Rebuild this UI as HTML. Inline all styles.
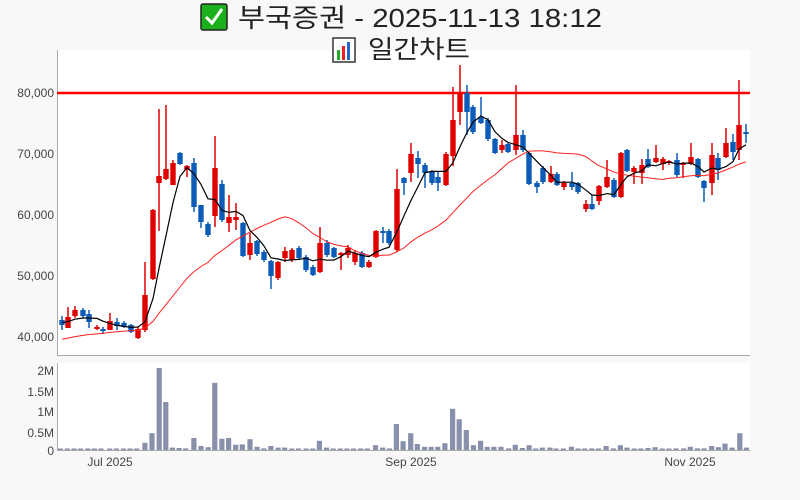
<!DOCTYPE html>
<html><head><meta charset="utf-8"><style>
body{margin:0;background:#f8f8f8;}
#c{position:relative;width:800px;height:500px;overflow:hidden;font-family:"Liberation Sans","Noto Sans CJK KR",sans-serif;}
</style></head><body><div id="c">
<svg id="s" width="800" height="500" xmlns="http://www.w3.org/2000/svg" style="position:absolute;left:0;top:0">
<rect x="57" y="50" width="693" height="305" fill="#fff"/>
<rect x="57" y="363" width="693" height="87" fill="#fff"/>
<line x1="57.5" y1="50" x2="57.5" y2="355" stroke="#aaa"/>
<line x1="57" y1="355.5" x2="750" y2="355.5" stroke="#aaa"/>
<line x1="57.5" y1="363" x2="57.5" y2="450" stroke="#aaa"/>
<line x1="57" y1="450.5" x2="750" y2="450.5" stroke="#aaa"/>
<g font-size="12" fill="#444" text-anchor="end">
<text x="54" y="97">80,000</text><text x="54" y="158">70,000</text><text x="54" y="219">60,000</text><text x="54" y="280">50,000</text><text x="54" y="341">40,000</text>
<text x="54" y="375">2M</text><text x="54" y="396">1.5M</text><text x="54" y="416">1M</text><text x="54" y="437">0.5M</text><text x="54" y="455">0</text>
</g>
<g font-size="12" fill="#444" text-anchor="middle">
<text x="110" y="466">Jul 2025</text><text x="411" y="466">Sep 2025</text><text x="690" y="466">Nov 2025</text>
</g>
<rect x="201" y="4" width="26" height="26" fill="#1db01d" stroke="#222" stroke-width="1.5" rx="2"/>
<path d="M206 17 L212 23 L222 9" stroke="#fff" stroke-width="3" fill="none"/>
<text x="238" y="27" font-size="26" fill="#222" textLength="364" lengthAdjust="spacingAndGlyphs">부국증권 - 2025-11-13 18:12</text>
<rect x="333" y="38" width="22" height="24" fill="#fff" stroke="#333" stroke-width="1.5"/>
<rect x="337" y="50" width="3" height="10" fill="#2a2"/><rect x="342" y="46" width="3" height="14" fill="#e22"/><rect x="347" y="42" width="3" height="18" fill="#26c"/>
<text x="368" y="58" font-size="25" fill="#222" textLength="102" lengthAdjust="spacingAndGlyphs">일간차트</text>
<line x1="57" y1="93" x2="750" y2="93" stroke="#ff0000" stroke-width="2.5"/>
<g id="g"></g>
</svg>
<script>
var d=[[62,'b',320,325,316,330],[68,'r',317,328,307,328],[75,'r',310,316,306,318],[83,'b',310,316,308,318],[89,'b',314,322,310,328],[97,'r',327,329,325,330],[103,'b',329,331,327,334],[110,'r',321,330,313,330],[117,'b',322,326,318,330],[124,'b',323,327,321,328],[131,'b',325,332,324,333],[138,'r',329,338,327,339],[145,'r',295,330,262,332],[153,'r',210,279,209,280],[159,'r',176,183,109,231],[166,'r',169,179,105,180],[173,'r',163,185,160,185],[180,'b',153,164,152,165],[187,'r',166,170,165,177],[194,'b',163,207,158,212],[201,'b',205,222,205,228],[208,'b',224,235,222,237],[215,'r',168,216,136,227],[222,'b',184,220,180,222],[229,'r',217,223,195,232],[236,'r',217,220,203,230],[243,'b',223,256,222,257],[250,'r',243,255,233,260],[257,'b',241,254,240,256],[264,'b',252,260,250,262],[271,'b',261,276,260,289],[278,'r',262,278,261,280],[285,'r',251,258,247,262],[292,'r',250,260,248,262],[299,'b',248,258,246,260],[306,'b',257,270,255,272],[313,'b',267,275,265,276],[320,'r',243,272,227,273],[327,'b',243,255,240,257],[334,'b',248,257,247,258],[341,'r',253,255,252,270],[348,'r',248,255,245,258],[355,'r',253,262,250,265],[362,'b',253,267,251,268],[369,'r',262,267,260,268],[376,'r',231,257,230,258],[383,'b',231,233,227,243],[389,'b',231,243,229,245],[397,'r',189,250,169,252],[404,'b',178,183,177,195],[411,'r',154,173,143,182],[418,'b',158,164,151,178],[425,'b',165,173,163,188],[432,'b',172,183,170,185],[438,'b',177,183,172,191],[446,'r',154,185,152,186],[453,'r',120,156,87,166],[460,'r',93,112,65,125],[467,'b',93,112,85,135],[473,'b',107,132,105,134],[481,'b',117,123,97,124],[488,'b',120,139,118,141],[495,'b',139,153,138,154],[502,'r',145,150,140,153],[508,'b',144,152,143,153],[516,'r',135,150,85,155],[523,'b',135,150,130,152],[529,'b',153,184,152,185],[537,'b',183,187,181,193],[543,'b',168,182,166,184],[551,'r',174,182,166,183],[557,'b',174,185,172,186],[564,'r',183,187,181,190],[572,'b',183,187,172,190],[578,'b',183,192,182,194],[586,'r',204,209,200,212],[592,'b',204,209,195,210],[599,'r',186,201,185,205],[607,'r',177,187,160,188],[614,'b',180,197,178,198],[621,'r',153,197,152,198],[627,'b',150,171,149,172],[634,'r',168,172,166,184],[642,'r',165,173,159,184],[648,'b',159,167,149,168],[656,'r',158,162,145,163],[663,'r',159,164,157,170],[669,'r',161,163,160,165],[677,'b',160,175,153,177],[683,'r',163,165,162,178],[691,'r',157,164,143,165],[698,'b',159,177,158,178],[704,'b',181,188,180,202],[712,'r',155,183,143,195],[718,'b',158,170,153,180],[726,'r',143,157,128,158],[733,'b',142,152,134,160],[739,'r',125,150,80,160],[746,'b',132,134,124,143]];
var v=[.02,.03,.02,.02,.02,.02,.01,.02,.02,.01,.01,.01,.18,.42,2.05,1.2,.06,.05,.04,.3,.1,.07,1.68,.28,.3,.13,.14,.27,.08,.04,.1,.06,.06,.02,.02,.03,.02,.23,.06,.02,.02,.03,.03,.03,.03,.12,.06,.04,.65,.22,.42,.15,.08,.08,.08,.17,1.03,.77,.5,.12,.23,.08,.08,.08,.04,.13,.05,.12,.03,.06,.06,.02,.02,.08,.03,.03,.04,.03,.1,.04,.12,.06,.03,.03,.05,.07,.03,.02,.04,.04,.08,.04,.04,.1,.07,.16,.06,.42,.06];
var vx=[118,132,145,158,172,185,198,215,228,242,255,268,284,298,312,325,338,351,364,380,394,408,421,435,448,462,475,490,504,517,531,545,558,572,585,600,613,626,640,653,667,680,693,707,720,736,750,763,777,790,805,818,832,845,858,872,887,900,914,928,942,955,968,982,997,1010,1024,1037,1050,1063,1078,1090,1104,1120,1133,1146,1160,1173,1188,1202,1216,1229,1243,1256,1270,1284,1298,1311,1325,1340,1353,1367,1380,1395,1408,1421,1435,1450,1463];
var h='';
for(var i=0;i<v.length&&i<vx.length;i++){var x=vx[i]/1.96,hh=Math.max(1.5,v[i]*40);h+='<rect x="'+(x-2.6).toFixed(1)+'" y="'+(450-hh).toFixed(1)+'" width="5.2" height="'+hh.toFixed(1)+'" fill="#8890ab"/>';}
var cl=[];
d.forEach(function(c){var col=c[1]=='r'?'#e00000':'#0b5cb8';cl.push(c[1]=='r'?c[2]:c[3]);
h+='<line x1="'+c[0]+'" y1="'+c[4]+'" x2="'+c[0]+'" y2="'+c[5]+'" stroke="'+col+'" stroke-width="1.5"/>';
h+='<rect x="'+(c[0]-2.7)+'" y="'+c[2]+'" width="5.4" height="'+Math.max(1.5,c[3]-c[2])+'" fill="'+col+'"/>';});
function ma(n,pad){var p='';for(var i=0;i<d.length;i++){var s=0;for(var k=i-n+1;k<=i;k++)s+=k<0?pad:cl[k];p+=(i?'L':'M')+d[i][0]+' '+(s/n).toFixed(1);}return p;}
h+='<path d="'+ma(20,340)+'" stroke="#ff2020" stroke-width="1" fill="none"/>';
h+='<path d="'+ma(5,322)+'" stroke="#000" stroke-width="1.2" fill="none"/>';
document.getElementById('g').innerHTML=h;
</script>
</div></body></html>
